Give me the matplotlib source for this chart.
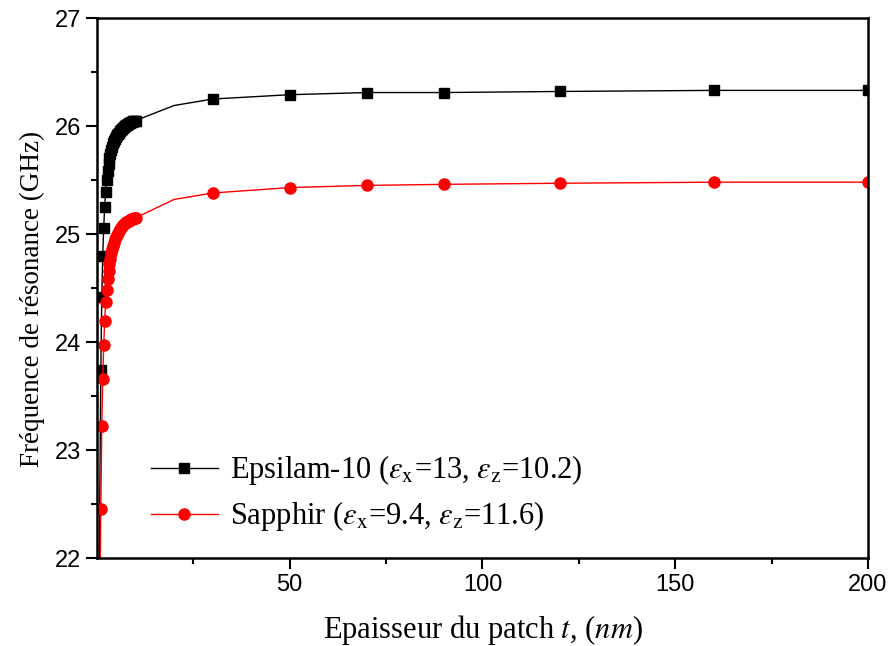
import matplotlib
matplotlib.use("Agg")
import matplotlib.pyplot as plt
from matplotlib.ticker import MultipleLocator, FixedLocator

plt.rcParams['mathtext.fontset'] = 'stix'

# thickness t (nm)
t_dense = [0.5, 1.0, 1.25, 1.5, 1.75, 2.0, 2.25, 2.5, 2.75, 3.0, 3.25, 3.5, 3.75,
           4.0, 4.25, 4.5, 4.75, 5.0, 5.25, 5.5, 5.75, 6.0, 6.25, 6.5, 6.75,
           7.0, 7.25, 7.5, 7.75, 8.0, 8.25, 8.5, 8.75, 9.0, 9.25, 9.5, 9.75, 10.0]
t_sparse = [20, 30, 50, 70, 90, 120, 160, 200]

epsilam_dense = [21.6, 23.74, 24.42, 24.80, 25.06, 25.25, 25.39, 25.50, 25.58, 25.65,
                 25.70, 25.74, 25.78, 25.81, 25.84, 25.86, 25.88, 25.90, 25.915,
                 25.93, 25.94, 25.955, 25.965, 25.975, 25.985, 25.99, 26.00, 26.005,
                 26.01, 26.02, 26.025, 26.03, 26.035, 26.04, 26.042, 26.045, 26.048, 26.05]
epsilam_sparse = [26.19, 26.25, 26.29, 26.31, 26.31, 26.32, 26.33, 26.33]

sapphir_dense = [20.5, 22.45, 23.22, 23.66, 23.97, 24.19, 24.37, 24.48, 24.58, 24.66,
                 24.72, 24.77, 24.82, 24.86, 24.89, 24.92, 24.95, 24.97, 24.99,
                 25.01, 25.03, 25.045, 25.06, 25.07, 25.08, 25.09, 25.10, 25.11,
                 25.115, 25.12, 25.125, 25.13, 25.135, 25.14, 25.143, 25.146, 25.148, 25.15]
sapphir_sparse = [25.32, 25.38, 25.43, 25.45, 25.46, 25.47, 25.48, 25.48]

no_marker_t = [20]

t_all = t_dense + t_sparse
eps_all = epsilam_dense + epsilam_sparse
sap_all = sapphir_dense + sapphir_sparse
mark_idx = [i for i, t in enumerate(t_all) if t not in no_marker_t]

fig = plt.figure(figsize=(8.92, 6.46), dpi=100)
ax = fig.add_axes([0.1087, 0.1362, 0.8644, 0.8359])

ax.plot(t_all, eps_all, color='black', lw=1.0, marker='s', ms=7,
        markevery=mark_idx,
        label=r'Epsilam-10 ($\varepsilon_{\mathrm{x}}$=13, $\varepsilon_{\mathrm{z}}$=10.2)')
ax.plot(t_all, sap_all, color='red', lw=1.0, marker='o', ms=8,
        markevery=mark_idx,
        label=r'Sapphir ($\varepsilon_{\mathrm{x}}$=9.4, $\varepsilon_{\mathrm{z}}$=11.6)')

ax.set_xlim(0, 200)
ax.set_ylim(22, 27)
ax.xaxis.set_major_locator(FixedLocator([50, 100, 150, 200]))
ax.xaxis.set_minor_locator(FixedLocator([25, 75, 125, 175]))
ax.yaxis.set_major_locator(MultipleLocator(1))
ax.yaxis.set_minor_locator(MultipleLocator(0.5))
ax.tick_params(which='major', direction='out', length=8, width=1.5,
               top=False, right=False, labelsize=17)
ax.tick_params(which='minor', direction='out', length=4, width=1.5,
               top=False, right=False)
for lab in ax.get_xticklabels() + ax.get_yticklabels():
    lab.set_fontfamily('Liberation Sans')
for s in ax.spines.values():
    s.set_linewidth(1.8)

ax.set_xlabel(r'Epaisseur du patch $t$, ($nm$)', fontsize=22,
              fontfamily='Liberation Serif', labelpad=12)
ax.set_ylabel('Fréquence de résonance (GHz)', fontsize=19.5,
              fontfamily='Liberation Serif')
ax.yaxis.set_label_coords(-0.067, 0.48)

leg = ax.legend(loc='upper left', bbox_to_anchor=(0.034, 0.245), frameon=False,
                prop={'family': 'Liberation Serif', 'size': 22},
                handlelength=2.2, handletextpad=0.4, labelspacing=0.4)

fig.savefig('out.png', dpi=100)
